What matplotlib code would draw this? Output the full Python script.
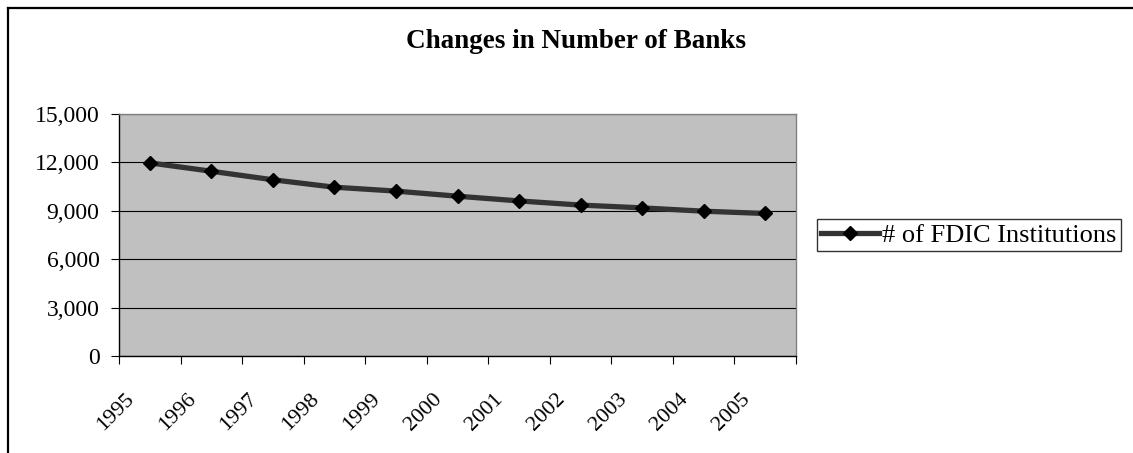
import matplotlib
matplotlib.use("Agg")
import matplotlib.pyplot as plt
from matplotlib.lines import Line2D
from matplotlib.ticker import FuncFormatter, FixedLocator
from matplotlib.transforms import ScaledTranslation

# ---- data (FDIC-insured institutions) ----
YEARS = ["1995", "1996", "1997", "1998", "1999", "2000",
         "2001", "2002", "2003", "2004", "2005"]
INSTITUTIONS = [11970, 11452, 10922, 10463, 10221, 9904,
                9613, 9354, 9181, 8976, 8833]
Y_TICKS = [0, 3000, 6000, 9000, 12000, 15000]
SERIES_LABEL = "# of FDIC Institutions"
TITLE = "Changes in Number of Banks"

plt.rcParams.update({"font.family": ["Liberation Serif", "DejaVu Serif"], "font.size": 16})

W, H = 1133, 453
fig = plt.figure(figsize=(W / 100, H / 100), dpi=100)
ax = fig.add_axes([119 / W, 1 - 356 / H, (796 - 119) / W, (356 - 114) / H])
ax.set_facecolor("#c0c0c0")

x = list(range(len(YEARS)))
line, = ax.plot(x, INSTITUTIONS, "-", color="#333333", lw=3.8, zorder=3,
                marker="D", ms=7.5, mfc="black", mec="black", label=SERIES_LABEL)

ax.set_xlim(-0.5, len(YEARS) - 0.5)
ax.set_ylim(Y_TICKS[0], Y_TICKS[-1])
ax.set_yticks(Y_TICKS)
ax.yaxis.set_major_formatter(FuncFormatter(lambda v, p: f"{v:,.0f}"))
ax.grid(axis="y", color="black", lw=0.8, zorder=1)

# category axis: tick marks on the boundaries, labels just left of the centres
ax.xaxis.set_major_locator(FixedLocator([i - 0.5 for i in range(len(YEARS) + 1)]))
ax.tick_params(axis="x", which="major", labelbottom=False, length=6, width=0.8, direction="out")
ax.set_xticks(x, YEARS, minor=True)
ax.tick_params(axis="x", which="minor", length=0, pad=24)
shift = ScaledTranslation(-25 / 100, 0, fig.dpi_scale_trans)
for t in ax.get_xticklabels(minor=True):
    t.set_rotation(45); t.set_ha("right"); t.set_rotation_mode("anchor")
    t.set_fontsize(16)
    t.set_transform(t.get_transform() + shift)
ax.tick_params(axis="y", length=6, width=0.8, direction="out", pad=8, labelsize=17)

for s in ("top", "right"):
    ax.spines[s].set_color("#808080"); ax.spines[s].set_linewidth(1.0)
for s in ("left", "bottom"):
    ax.spines[s].set_color("black"); ax.spines[s].set_linewidth(1.0)

fig.text(576 / W, 1 - 42 / H, TITLE, ha="center", va="center", fontsize=19.5, fontweight="bold")

leg = fig.legend(handles=[line], loc="center left", bbox_to_anchor=(817 / W, 1 - 235 / H),
                 frameon=True, fancybox=False, edgecolor="black", fontsize=19,
                 handlelength=2.2, handletextpad=0.12, borderpad=0.15, borderaxespad=0)
leg.get_frame().set_linewidth(1.0)

# outer chart border (left and top edges visible in the reference)
fig.add_artist(Line2D([8 / W, 8 / W], [0, 1 - 8 / H], color="black", lw=1.6, transform=fig.transFigure))
fig.add_artist(Line2D([8 / W, 1], [1 - 8 / H, 1 - 8 / H], color="black", lw=1.6, transform=fig.transFigure))

fig.savefig("out.png", dpi=100)
